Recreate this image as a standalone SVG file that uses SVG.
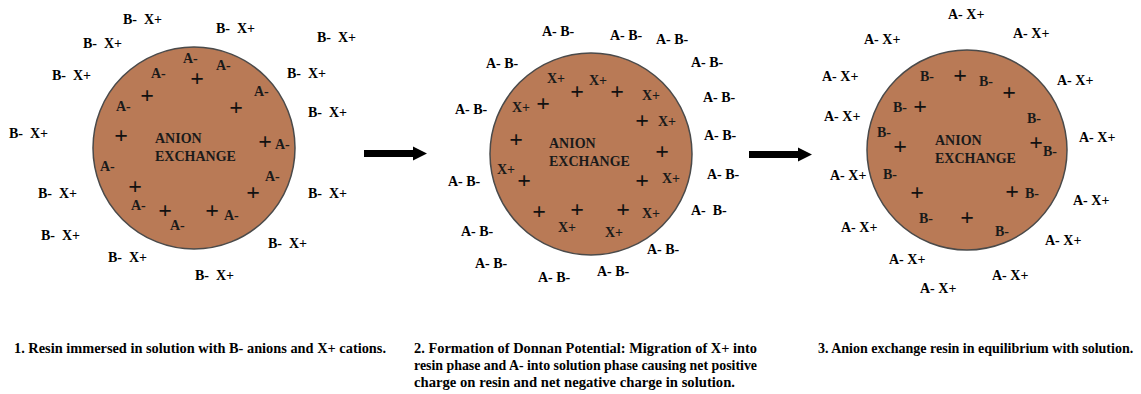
<svg xmlns="http://www.w3.org/2000/svg" width="1141" height="394" viewBox="0 0 1141 394">
<style>
.bg{fill:#ffffff}
.resin{fill:#B97A56;stroke:#4a4a4a;stroke-width:1.5}
text{font-family:"Liberation Serif","Times New Roman",Times,"DejaVu Serif",serif;font-weight:bold}
.t{font-size:14px;fill:#000}
.i{font-size:14px;fill:#1a1a1a}
.c{font-size:14px;fill:#1a1a1a}
.p{font-size:24px;fill:#111;text-anchor:middle}
.cap{font-size:14.5px;fill:#000}
.cap3{font-size:14px;fill:#000}
.arrow{fill:#000}
</style>
<rect class="bg" x="0" y="0" width="1141" height="394"/>

<g id="panel1">
<circle class="resin" cx="194" cy="148" r="101"/>
<text class="c" x="155" y="143">ANION</text>
<text class="c" x="155" y="161">EXCHANGE</text>
<g id="p1-inner-anions">
<text class="i" x="183" y="63">A-</text>
<text class="i" x="216" y="70">A-</text>
<text class="i" x="151" y="78">A-</text>
<text class="i" x="254" y="96">A-</text>
<text class="i" x="116" y="111">A-</text>
<text class="i" x="275" y="149">A-</text>
<text class="i" x="100" y="171">A-</text>
<text class="i" x="265" y="181">A-</text>
<text class="i" x="131" y="210">A-</text>
<text class="i" x="170" y="230">A-</text>
<text class="i" x="224" y="220">A-</text>
</g>
<g id="p1-fixed-charges">
<text class="p" x="197" y="86">+</text>
<text class="p" x="147" y="103">+</text>
<text class="p" x="236" y="115">+</text>
<text class="p" x="121" y="143">+</text>
<text class="p" x="265" y="149">+</text>
<text class="p" x="135" y="194">+</text>
<text class="p" x="253" y="200">+</text>
<text class="p" x="165" y="218">+</text>
<text class="p" x="212" y="218">+</text>
</g>
<g id="p1-solution">
<text class="t" x="123" y="24">B-&#160; X+</text>
<text class="t" x="216" y="33">B-&#160; X+</text>
<text class="t" x="317" y="42">B-&#160; X+</text>
<text class="t" x="83" y="48">B-&#160; X+</text>
<text class="t" x="52" y="80">B-&#160; X+</text>
<text class="t" x="287" y="78">B-&#160; X+</text>
<text class="t" x="308" y="117">B-&#160; X+</text>
<text class="t" x="9" y="138">B-&#160; X+</text>
<text class="t" x="308" y="198">B-&#160; X+</text>
<text class="t" x="38" y="198">B-&#160; X+</text>
<text class="t" x="41" y="240">B-&#160; X+</text>
<text class="t" x="268" y="248">B-&#160; X+</text>
<text class="t" x="108" y="262">B-&#160; X+</text>
<text class="t" x="195" y="280">B-&#160; X+</text>
</g>
</g>

<g id="panel2">
<circle class="resin" cx="591" cy="154" r="101"/>
<text class="c" x="549" y="148">ANION</text>
<text class="c" x="549" y="166">EXCHANGE</text>
<g id="p2-inner-cations">
<text class="i" x="547" y="83">X+</text>
<text class="i" x="589" y="85">X+</text>
<text class="i" x="642" y="100">X+</text>
<text class="i" x="512" y="112">X+</text>
<text class="i" x="658" y="126">X+</text>
<text class="i" x="497" y="174">X+</text>
<text class="i" x="662" y="183">X+</text>
<text class="i" x="642" y="218">X+</text>
<text class="i" x="558" y="232">X+</text>
<text class="i" x="605" y="237">X+</text>
</g>
<g id="p2-fixed-charges">
<text class="p" x="543" y="111">+</text>
<text class="p" x="577" y="99">+</text>
<text class="p" x="617" y="99">+</text>
<text class="p" x="642" y="128">+</text>
<text class="p" x="516" y="147">+</text>
<text class="p" x="662" y="159">+</text>
<text class="p" x="524" y="188">+</text>
<text class="p" x="642" y="188">+</text>
<text class="p" x="539" y="219">+</text>
<text class="p" x="577" y="217">+</text>
<text class="p" x="623" y="217">+</text>
</g>
<g id="p2-solution">
<text class="t" x="542" y="36">A- B-</text>
<text class="t" x="610" y="40">A- B-</text>
<text class="t" x="656" y="44">A- B-</text>
<text class="t" x="486" y="68">A- B-</text>
<text class="t" x="691" y="67">A- B-</text>
<text class="t" x="703" y="102">A- B-</text>
<text class="t" x="455" y="114">A- B-</text>
<text class="t" x="704" y="140">A- B-</text>
<text class="t" x="707" y="179">A- B-</text>
<text class="t" x="448" y="186">A- B-</text>
<text class="t" x="691" y="215">A-&#160; B-</text>
<text class="t" x="461" y="236">A- B-</text>
<text class="t" x="647" y="254">A- B-</text>
<text class="t" x="475" y="268">A- B-</text>
<text class="t" x="597" y="276">A- B-</text>
<text class="t" x="538" y="282">A- B-</text>
</g>
</g>

<g id="panel3">
<circle class="resin" cx="967" cy="150" r="100"/>
<text class="c" x="935" y="145">ANION</text>
<text class="c" x="935" y="163">EXCHANGE</text>
<g id="p3-inner-anions">
<text class="i" x="920" y="81">B-</text>
<text class="i" x="979" y="86">B-</text>
<text class="i" x="893" y="112">B-</text>
<text class="i" x="1027" y="123">B-</text>
<text class="i" x="877" y="137">B-</text>
<text class="i" x="1043" y="156">B-</text>
<text class="i" x="883" y="179">B-</text>
<text class="i" x="1025" y="198">B-</text>
<text class="i" x="919" y="223">B-</text>
<text class="i" x="995" y="236">B-</text>
</g>
<g id="p3-fixed-charges">
<text class="p" x="960" y="83">+</text>
<text class="p" x="1009" y="100">+</text>
<text class="p" x="920" y="114">+</text>
<text class="p" x="900" y="154">+</text>
<text class="p" x="1036" y="150">+</text>
<text class="p" x="917" y="200">+</text>
<text class="p" x="1012" y="199">+</text>
<text class="p" x="967" y="225">+</text>
</g>
<g id="p3-solution">
<text class="t" x="948" y="19">A- X+</text>
<text class="t" x="1013" y="38">A- X+</text>
<text class="t" x="864" y="44">A- X+</text>
<text class="t" x="822" y="81">A- X+</text>
<text class="t" x="1057" y="85">A- X+</text>
<text class="t" x="824" y="121">A- X+</text>
<text class="t" x="1079" y="142">A- X+</text>
<text class="t" x="830" y="180">A- X+</text>
<text class="t" x="1073" y="205">A- X+</text>
<text class="t" x="841" y="232">A- X+</text>
<text class="t" x="1045" y="245">A- X+</text>
<text class="t" x="889" y="264">A- X+</text>
<text class="t" x="992" y="280">A- X+</text>
<text class="t" x="920" y="293">A- X+</text>
</g>
</g>

<g id="connectors">
<polygon class="arrow" points="364,150 413,150 413,146.5 427,153.5 413,160.5 413,157 364,157"/>
<polygon class="arrow" points="749,151 798,151 798,147.5 812,154.5 798,161.5 798,158 749,158"/>
</g>

<g id="captions">
<text class="cap" x="14" y="353" textLength="372" lengthAdjust="spacingAndGlyphs">1. Resin immersed in solution with B- anions and X+ cations.</text>
<text class="cap" x="414" y="353" textLength="343" lengthAdjust="spacingAndGlyphs">2. Formation of Donnan Potential: Migration of X+ into</text>
<text class="cap" x="414" y="370" textLength="343" lengthAdjust="spacingAndGlyphs">resin phase and A- into solution phase causing net positive</text>
<text class="cap" x="414" y="387" textLength="321" lengthAdjust="spacingAndGlyphs">charge on resin and net negative charge in solution.</text>
<text class="cap3" x="818" y="353">3. Anion exchange resin in equilibrium with solution.</text>
</g>
</svg>
